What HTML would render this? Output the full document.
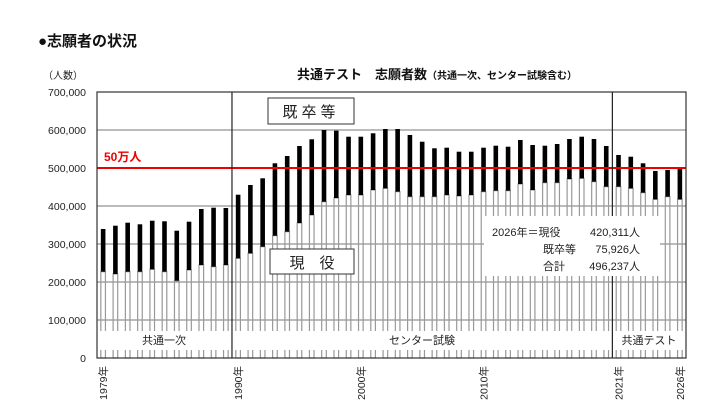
<!DOCTYPE html>
<html><head><meta charset="utf-8"><style>
body{margin:0;background:#fff;width:710px;height:418px;overflow:hidden}
svg{display:block}
text{font-family:"Liberation Sans","Noto Sans CJK JP",sans-serif}
</style></head><body>
<svg id="s" width="710" height="418" xmlns="http://www.w3.org/2000/svg">
<text x="38" y="46" font-size="15" font-weight="bold" fill="#111">●志願者の状況</text>
<text x="43" y="79" font-size="10" fill="#222">（人数）</text>
<text x="297" y="79" font-size="13" font-weight="bold" fill="#111">共通テスト　志願者数<tspan font-size="10">（共通一次、センター試験含む）</tspan></text>
<g id="g"></g>
</svg>
<script>
var g=document.getElementById('g'),h='';
var L=97,R=686,T=92,B=358,sw=(R-L)/48;
var ticks=['700,000','600,000','500,000','400,000','300,000','200,000','100,000','0'];
for(var i=0;i<8;i++){var y=T+i*38;
 if(i>0&&i<7)h+='<line x1="'+L+'" x2="'+R+'" y1="'+y+'" y2="'+y+'" stroke="#777" stroke-width="1"/>';
 h+='<text x="86" y="'+(y+4)+'" font-size="10.5" text-anchor="end" fill="#222">'+ticks[i]+'</text>';}
var tops=[229,225.7,222.7,224.3,220.7,221.3,230.7,221.7,209,207.7,208,194.7,185,178.3,163.3,156,146,139.3,130,130.7,
136.7,136.7,133.3,129,129,135,141.7,148.3,147.7,151.7,151.7,147.7,145.7,146.7,140,145,145.7,144,139,136.7,139,146,155,156.7,163.3,171,170,168.3];
var bots=[271.7,274,271.7,271.7,269.3,271.7,280.7,270,265,266.7,265,258.3,253.3,246.7,235.7,231.7,223,215,201.7,198];
var zb=[418,405,405,390,385,395,410,410,410,405,408,405,395,392,392,372,390,368,368,357,355,365,380,380,385,398,418,410,418];
for(var i=1;i<zb.length;i++)bots.push(60+zb[i]/3);
for(var i=0;i<48;i++){var cx=L+sw*(i+0.5);
 h+='<rect x="'+(cx-2.3)+'" y="'+bots[i]+'" width="4.6" height="'+(B-bots[i])+'" fill="none" stroke="#999" stroke-width="1.2"/>';
 h+='<rect x="'+(cx-2.3)+'" y="'+tops[i]+'" width="4.6" height="'+(bots[i]-tops[i])+'" fill="#000"/>';}
h+='<rect x="'+(L+1)+'" y="331" width="'+(R-L-2)+'" height="19" fill="#fff"/>';
h+='<line x1="'+L+'" x2="'+R+'" y1="168" y2="168" stroke="#e00" stroke-width="2"/>';
h+='<text x="104" y="161" font-size="12" font-weight="bold" fill="#e00">50万人</text>';
h+='<rect x="'+L+'" y="'+T+'" width="'+(R-L)+'" height="'+(B-T)+'" fill="none" stroke="#333" stroke-width="1.2"/>';
var d1=L+sw*11,d2=L+sw*42;
h+='<line x1="'+d1+'" x2="'+d1+'" y1="'+T+'" y2="'+B+'" stroke="#222" stroke-width="1.2"/>';
h+='<line x1="'+d2+'" x2="'+d2+'" y1="'+T+'" y2="'+B+'" stroke="#222" stroke-width="1.2"/>';
h+='<text x="164" y="344" font-size="11" text-anchor="middle" fill="#222">共通一次</text>';
h+='<text x="422" y="344" font-size="11" text-anchor="middle" fill="#222">センター試験</text>';
h+='<text x="649" y="344" font-size="11" text-anchor="middle" fill="#222">共通テスト</text>';
h+='<rect x="268" y="98" width="86" height="26" fill="#fff" stroke="#333" stroke-width="1"/>';
h+='<text x="311" y="117" font-size="15" text-anchor="middle" fill="#222" letter-spacing="4">既卒等</text>';
h+='<rect x="270" y="249" width="84" height="25" fill="#fff" stroke="#333" stroke-width="1"/>';
h+='<text x="312" y="268" font-size="15" text-anchor="middle" fill="#222">現　役</text>';
h+='<rect x="484" y="216" width="176" height="60" fill="#fff"/>';
h+='<text x="492" y="236" font-size="11" fill="#222">2026年＝現役</text><text x="640" y="236" font-size="11" text-anchor="end" fill="#222">420,311人</text>';
h+='<text x="543" y="253" font-size="11" fill="#222">既卒等</text><text x="640" y="253" font-size="11" text-anchor="end" fill="#222">75,926人</text>';
h+='<text x="543" y="270" font-size="11" fill="#222">合計</text><text x="640" y="270" font-size="11" text-anchor="end" fill="#222">496,237人</text>';
var yl=[[0,'1979年'],[11,'1990年'],[21,'2000年'],[31,'2010年'],[42,'2021年'],[47,'2026年']];
yl.forEach(function(a){var cx=L+sw*(a[0]+0.5)+4;
 h+='<text transform="translate('+cx+',366) rotate(-90)" font-size="10.5" text-anchor="end" fill="#222">'+a[1]+'</text>';});
g.innerHTML=h;
</script>
</body></html>
